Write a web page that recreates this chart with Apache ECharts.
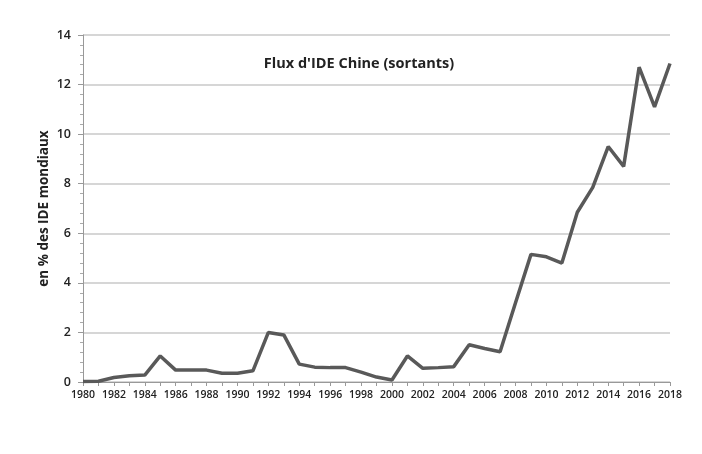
<!DOCTYPE html>
<html>
<head>
<meta charset="utf-8">
<script src="https://cdn.jsdelivr.net/npm/echarts@6/dist/echarts.min.js"></script>
<style>html,body{margin:0;padding:0;background:#fff;}#c{width:702px;height:454px;}</style>
</head>
<body>
<div id="c"></div>
<script>
var years = ['1980','1981','1982','1983','1984','1985','1986','1987','1988','1989','1990','1991','1992','1993','1994','1995','1996','1997','1998','1999','2000','2001','2002','2003','2004','2005','2006','2007','2008','2009','2010','2011','2012','2013','2014','2015','2016','2017','2018'];
var values = [0.02,0.03,0.18,0.25,0.28,1.05,0.48,0.48,0.48,0.35,0.35,0.45,2.0,1.9,0.72,0.6,0.58,0.58,0.4,0.2,0.08,1.05,0.55,0.58,0.62,1.5,1.35,1.22,3.2,5.15,5.05,4.8,6.85,7.85,9.5,8.7,12.7,11.1,12.85];
var chartTitle = "Flux d'IDE Chine (sortants)";
var yAxisName = 'en % des IDE mondiaux';

var chart = echarts.init(document.getElementById('c'));
chart.setOption({
  backgroundColor: '#fff',
  animation: false,
  title: {
    text: chartTitle,
    left: 354, top: 51, textAlign: 'center',
    textStyle: { fontFamily: 'Open Sans', fontWeight: 'bold', fontSize: 14.5, color: '#222' }
  },
  grid: { left: 83, right: 32, top: 35, bottom: 72 },
  xAxis: {
    type: 'category',
    data: years,
    boundaryGap: false,
    axisLine: { lineStyle: { color: '#999', width: 1 } },
    axisTick: { show: true, interval: 0, length: 4, lineStyle: { color: '#999' } },
    axisLabel: { interval: 1, color: '#222', fontFamily: 'Open Sans', fontWeight: 600, fontSize: 10.5, margin: 8 },
    splitLine: { show: false }
  },
  yAxis: {
    type: 'value',
    min: 0, max: 14, interval: 2,
    name: yAxisName,
    nameLocation: 'middle',
    nameGap: 32,
    nameMoveOverlap: false,
    nameTextStyle: { fontFamily: 'Open Sans', fontWeight: 'bold', fontSize: 13.5, color: '#222' },
    axisLine: { show: true, lineStyle: { color: '#999', width: 1 } },
    axisTick: { show: true, length: 5, lineStyle: { color: '#999' } },
    minorTick: { show: true, splitNumber: 5, length: 3, lineStyle: { color: '#aaa' } },
    axisLabel: { color: '#222', fontFamily: 'Open Sans', fontWeight: 600, fontSize: 12.5, margin: 12 },
    splitLine: { show: true, lineStyle: { color: '#c8c8c8', width: 1.5 } }
  },
  series: [{
    type: 'line',
    data: values,
    symbol: 'none',
    lineStyle: { color: '#595959', width: 3.5 },
    itemStyle: { color: '#595959' }
  }]
});
</script>
</body>
</html>
